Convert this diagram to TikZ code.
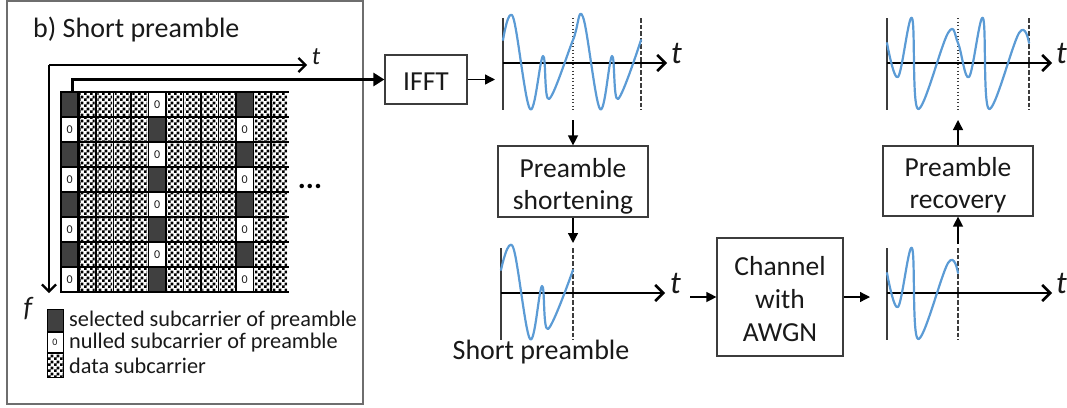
\documentclass[tikz,border=0pt]{standalone}
\usepackage{fontspec}
\setmainfont{Carlito}
\usetikzlibrary{arrows.meta,patterns}
\pgfdeclarepatternformonly{chk}{\pgfqpoint{0pt}{0pt}}{\pgfqpoint{6pt}{6pt}}{\pgfqpoint{6pt}{6pt}}{%
  \pgfpathrectangle{\pgfqpoint{0pt}{0pt}}{\pgfqpoint{3pt}{3pt}}%
  \pgfpathrectangle{\pgfqpoint{3pt}{3pt}}{\pgfqpoint{3pt}{3pt}}%
  \pgfusepath{fill}}
\definecolor{wave}{RGB}{91,155,213}
\definecolor{dk}{RGB}{64,64,64}
\definecolor{bdr}{RGB}{60,60,60}
\definecolor{frm}{RGB}{110,110,110}
\definecolor{txt}{RGB}{25,25,25}
\begin{document}
\begin{tikzpicture}[x=1pt,y=-1pt,
  blk/.style={draw=bdr,line width=1.2pt,fill=white,align=center,inner sep=0pt,text=txt,font=\fontsize{27.5}{32}\selectfont},
  lbl/.style={inner sep=0pt,text=txt,font=\fontsize{28}{32}\selectfont},
  leg/.style={inner sep=0pt,text=txt,anchor=west,font=\fontsize{22.3}{26}\selectfont},
  tlab/.style={inner sep=0pt,text=txt,anchor=base west,font=\fontsize{32}{32}\selectfont\itshape},
  flow/.style={line width=1.3pt,draw=black,-{Triangle[length=10pt,width=10pt]}},
  bigflow/.style={line width=3pt,draw=black,-{Triangle[length=11pt,width=13pt]}},
  hax/.style={line width=1.8pt,draw=black,-{Straight Barb[length=8pt,width=16pt,line width=2.6pt]}},
  thinax/.style={line width=1.4pt,draw=black,-{Straight Barb[length=7pt,width=14pt,line width=2.2pt]}},
  vax/.style={line width=1.5pt,draw=bdr},
  wv/.style={draw=wave,line width=2.2pt,line join=round,line cap=round},
  dotl/.style={line width=1.4pt,draw=bdr,dash pattern=on 1.3pt off 2.2pt},
  dashl/.style={line width=1.3pt,draw=bdr,dash pattern=on 4.5pt off 2pt},
  gl/.style={line width=1.3pt,draw=black},
  nullc/.style={draw=black,line width=1.2pt,fill=white,minimum width=17.5pt,minimum height=25pt,inner sep=0pt,text=txt,font=\fontsize{12}{12}\selectfont}
]
\useasboundingbox (0,0) rectangle (1067,407);

% ---------- left frame ----------
\draw[frm,line width=1.3pt] (7,1) rectangle (363,404);
\node[lbl,anchor=base west] (title) at (33,37) {b) Short preamble};

% axes t / f
\coordinate (ax0) at (49,65);
\coordinate (axt) at (307,65);
\coordinate (axf) at (49,293);
\draw[thinax] (ax0) -- (axt);
\draw[thinax] (ax0) -- (axf);
\node[inner sep=0pt,text=txt,anchor=base,font=\fontsize{25}{25}\selectfont\itshape] (tlab0) at (316,64) {t};
\node[inner sep=0pt,text=txt,font=\fontsize{28}{28}\selectfont\itshape] (flab) at (28,309) {f};

% ---------- grid ----------
\foreach \c in {1,2,3,4,6,7,8,9,11,12} {
  \foreach \r in {0,...,7} {
    \fill[pattern=chk,pattern color=black] ({61+17.5*\c+1.4},{92+25*\r+1.4}) rectangle +(14.7,22.2);
  }
}
\foreach \r in {0,...,7} {
  \ifodd\r
    \node[nullc] (za\r) at ({61+8.75},{92+25*\r+12.5}) {0};
    \fill[dk] ({61+17.5*5},{92+25*\r}) rectangle +(17.5,25);
    \node[nullc] (zc\r) at ({61+17.5*10+8.75},{92+25*\r+12.5}) {0};
  \else
    \fill[dk] (61,{92+25*\r}) rectangle +(17.5,25);
    \node[nullc] (zb\r) at ({61+17.5*5+8.75},{92+25*\r+12.5}) {0};
    \fill[dk] ({61+17.5*10},{92+25*\r}) rectangle +(17.5,25);
  \fi
}
\foreach \c in {0,...,12} \draw[gl] ({61+17.5*\c},92) -- ++(0,200);
\foreach \r in {0,...,8} \draw[gl] (61,{92+25*\r}) -- (288.5,{92+25*\r});
\draw[line width=2.6pt] (61,92) rectangle (78.5,292);
\node[inner sep=0pt,text=black,font=\fontsize{30}{30}\selectfont\bfseries] (dots) at (310,186) {...};

% legend
\fill[dk] (47,309) rectangle (63,331);
\draw[line width=1pt] (47,309) rectangle (63,331);
\node[draw=black,line width=1pt,fill=white,minimum width=16pt,minimum height=20pt,inner sep=0pt,text=txt,font=\fontsize{10}{10}\selectfont] (lnull) at (55,342.5) {0};
\fill[pattern=chk,pattern color=black] (47,353) rectangle (63,377);
\draw[line width=1pt] (47,353) rectangle (63,377);
\node[leg] (l1) at (69,321) {selected subcarrier of preamble};
\node[leg] (l2) at (69,343) {nulled subcarrier of preamble};
\node[leg] (l3) at (69,366) {data subcarrier};

% ---------- blocks ----------
\node[blk,minimum width=82pt,minimum height=49pt] (ifft) at (426,79.5) {\rule{0pt}{21pt}IFFT};
\node[blk,minimum width=150pt,minimum height=71pt] (short) at (573,181.5) {\rule{0pt}{28pt}Preamble\\shortening};
\node[blk,minimum width=126pt,minimum height=118pt,font=\fontsize{27.5}{33}\selectfont] (chan) at (780,297) {\rule{0pt}{23pt}Channel\\with\\AWGN};
\node[blk,minimum width=150pt,minimum height=70pt] (recov) at (958,181) {\rule{0pt}{28pt}Preamble\\recovery};

% ---------- waveform 1 (IFFT output) ----------
\draw[vax] (503,18) -- (503,110);
\draw[dotl] (573,18) -- (573,110);
\draw[dashl] (641,18) -- (641,110);
\coordinate (w1o) at (503,63);
\coordinate (w1e) at (667,63);
\draw[hax] (w1o) -- (w1e);
\node[tlab] (t1) at (671,63) {t};
\draw[wv] plot[smooth,tension=0.6] coordinates {(503,40) (513,17) (530,109) (543,56) (549,99) (573,40) (583,17) (600,109) (612,56) (618,99) (641,40)};

% ---------- waveform 2 (recovered) ----------
\draw[vax] (887,18) -- (887,110);
\draw[dotl] (958,18) -- (958,110);
\draw[dashl] (1029,18) -- (1029,110);
\coordinate (w2o) at (887,63);
\coordinate (w2e) at (1052,63);
\draw[hax] (w2o) -- (w2e);
\node[tlab] (t2) at (1056,63) {t};
\draw[wv] plot[smooth,tension=0.6] coordinates {(887,43) (898,77) (912,18) (918,109) (948,33) (958,43) (969,77) (983,18) (989,109) (1019,33) (1029,43)};

% ---------- waveform 3 (short preamble) ----------
\draw[vax] (501,248) -- (501,340);
\draw[dashl] (573,248) -- (573,340);
\coordinate (w3o) at (501,293);
\coordinate (w3e) at (665,293);
\draw[hax] (w3o) -- (w3e);
\node[tlab] (t3) at (670,293) {t};
\draw[wv] plot[smooth,tension=0.6] coordinates {(501,270) (513,247) (530,339) (542,286) (548,329) (573,270)};
\node[lbl] (spl) at (541,352) {Short preamble};

% ---------- waveform 4 (received) ----------
\draw[vax] (887,248) -- (887,340);
\draw[dashl] (958,248) -- (958,340);
\coordinate (w4o) at (887,293);
\coordinate (w4e) at (1052,293);
\draw[hax] (w4o) -- (w4e);
\node[tlab] (t4) at (1056,293) {t};
\draw[wv] plot[smooth,tension=0.6] coordinates {(887,273) (898,307) (912,248) (918,339) (948,263) (958,273)};

% ---------- connectors ----------
\coordinate (g0) at (72,92);
\draw[bigflow] (g0) |- (ifft.west);
\coordinate (w1in) at (495,79.5);
\draw[flow] (ifft.east) -- (w1in);
\coordinate (w1d) at (573,120);
\draw[flow] (w1d) -- (short.north);
\coordinate (w3t) at (573,243);
\draw[flow] (short.south) -- (w3t);
\coordinate (w3r) at (690,297);
\draw[flow] (w3r) -- (chan.west);
\coordinate (w4l) at (870,297);
\draw[flow] (chan.east) -- (w4l);
\coordinate (w4t) at (958,244);
\draw[flow] (w4t) -- (recov.south);
\coordinate (w2b) at (958,120);
\draw[flow] (recov.north) -- (w2b);
\end{tikzpicture}
\end{document}
